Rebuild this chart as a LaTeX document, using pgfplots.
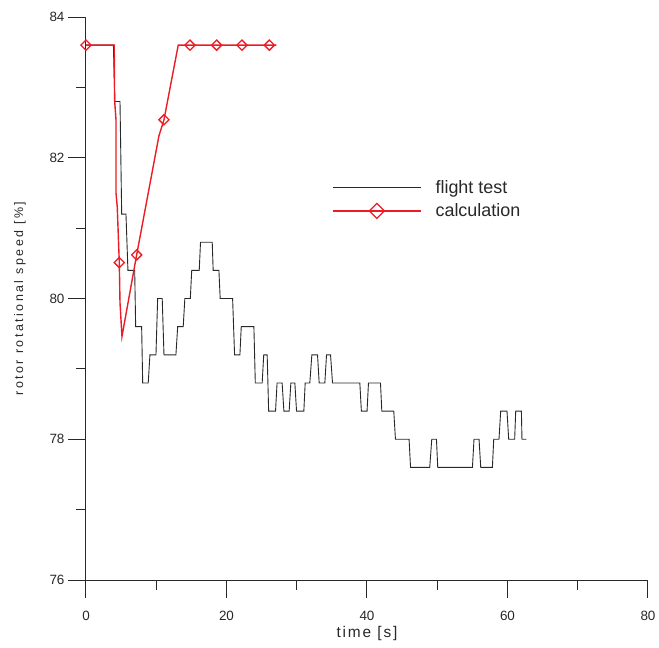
\documentclass[border=0pt]{standalone}
\usepackage{fontspec}
\setmainfont{Liberation Sans}
\newfontfamily\spacedfont[LetterSpace=20]{Liberation Sans}
\newfontfamily\looseFont[LetterSpace=12]{Liberation Sans}
\usepackage{pgfplots}
\pgfplotsset{compat=1.18}
\definecolor{calcred}{RGB}{236,28,36}
\definecolor{testgray}{RGB}{40,40,40}
\definecolor{axisgray}{RGB}{40,40,40}

\begin{document}
\begin{tikzpicture}
\begin{axis}[
  scale only axis,
  width=562bp, height=563bp,
  xmin=0, xmax=80, ymin=76, ymax=84,
  axis lines*=left,
  axis line style={axisgray, line width=1bp},
  xtick={0,20,40,60,80}, ytick={76,78,80,82,84},
  minor x tick num=1, minor y tick num=1,
  tick align=outside,
  major tick length=18bp, minor tick length=10bp,
  tick style={axisgray, line width=1bp},
  /pgf/number format/assume math mode=true,
  tick label style={font=\fontsize{13.5}{15}\selectfont, text=axisgray},
  xticklabel style={yshift=-10bp},
  xlabel={\looseFont time [s]},
  ylabel={\spacedfont rotor rotational speed [\%]},
  xlabel style={at={(axis description cs:0.5,-0.0959)}, anchor=center,
    font=\fontsize{15.5}{17}\selectfont, text=axisgray},
  ylabel style={at={(axis description cs:-0.1174,0.5)}, anchor=center,
    font=\fontsize{12.5}{15}\selectfont, text=axisgray},
  legend style={at={(0.4377,0.714)}, anchor=north west, draw=none, fill=none,
    font=\fontsize{18}{20}\selectfont, text=axisgray, row sep=5bp,
    inner sep=0pt,
    /tikz/every odd column/.append style={column sep=12bp}},
  legend cell align=left,
  legend image code/.code={%
    \draw[mark repeat=2,mark phase=2,#1]
      plot coordinates {(0bp,0bp) (44bp,0bp) (88bp,0bp)};},
  clip=false,
]
% flight test record (step signal)
\addplot[testgray, line width=0.9bp, mark=none] coordinates {
(0,83.6)
(3.9,83.6)(4.1,82.8)
(4.84,82.8)(5.08,81.2)
(5.69,81.2)(5.97,80.4)
(6.93,80.4)(7.07,79.6)
(7.92,79.6)(8.07,78.8)
(8.86,78.8)(9.1,79.2)
(9.96,79.2)(10.2,80.0)
(10.85,80.0)(11.1,79.2)
(12.8,79.2)(13.05,79.6)
(13.84,79.6)(14.07,80.0)
(14.85,80.0)(15.05,80.4)
(16.12,80.4)(16.3,80.8)
(17.97,80.8)(18.1,80.4)
(18.92,80.4)(19.1,80.0)
(20.87,80.0)(21.15,79.2)
(21.91,79.2)(22.1,79.6)
(23.9,79.6)(24.1,78.8)
(25.08,78.8)(25.3,79.2)
(25.79,79.2)(26.0,78.4)
(26.98,78.4)(27.2,78.8)
(27.92,78.8)(28.17,78.4)
(28.92,78.4)(29.16,78.8)
(29.73,78.8)(29.97,78.4)
(31.01,78.4)(31.2,78.8)
(31.86,78.8)(32.15,79.2)
(32.96,79.2)(33.19,78.8)
(34.0,78.8)(34.24,79.2)
(34.81,79.2)(35.09,78.8)
(38.98,78.8)(39.2,78.4)
(40.01,78.4)(40.21,78.8)
(41.92,78.8)(42.11,78.4)
(43.81,78.4)(44.05,78.0)
(45.99,78.0)(46.2,77.6)
(48.93,77.6)(49.22,78.0)
(49.89,78.0)(50.07,77.6)
(55.01,77.6)(55.23,78.0)
(55.95,78.0)(56.19,77.6)
(57.85,77.6)(58.04,78.0)
(58.79,78.0)(59.03,78.4)
(59.93,78.4)(60.17,78.0)
(61.02,78.0)(61.17,78.4)
(61.98,78.4)(62.06,78.0)
(62.69,78.0)
};
\addlegendentry{flight test}
% simulation result, marked at selected samples
\addplot[calcred, line width=1.4bp, mark=square, mark size=3.6bp,
  mark indices={1,7,10,12,14,15,16,17},
  mark options={rotate=45, solid, line width=1.3bp, fill=white},
  legend image post style={mark indices={2}, mark size=5.3bp}] coordinates {
(0,83.6)
(4.02,83.6)
(4.07,82.82)
(4.27,82.54)
(4.27,81.5)
(4.45,81.3)
(4.74,80.51)
(4.84,79.94)
(5.12,79.46)
(7.21,80.62)
(10.38,82.31)
(11.1,82.54)
(13.13,83.6)
(14.8,83.6)
(18.6,83.6)
(22.2,83.6)
(26.1,83.6)
(27.1,83.6)
};
\addlegendentry{calculation}
\end{axis}
\pgfresetboundingbox
\path ([shift={(-86bp,-68bp)}]current axis.south west)
  rectangle ([shift={(573bp,580bp)}]current axis.south west);
\end{tikzpicture}
\end{document}
